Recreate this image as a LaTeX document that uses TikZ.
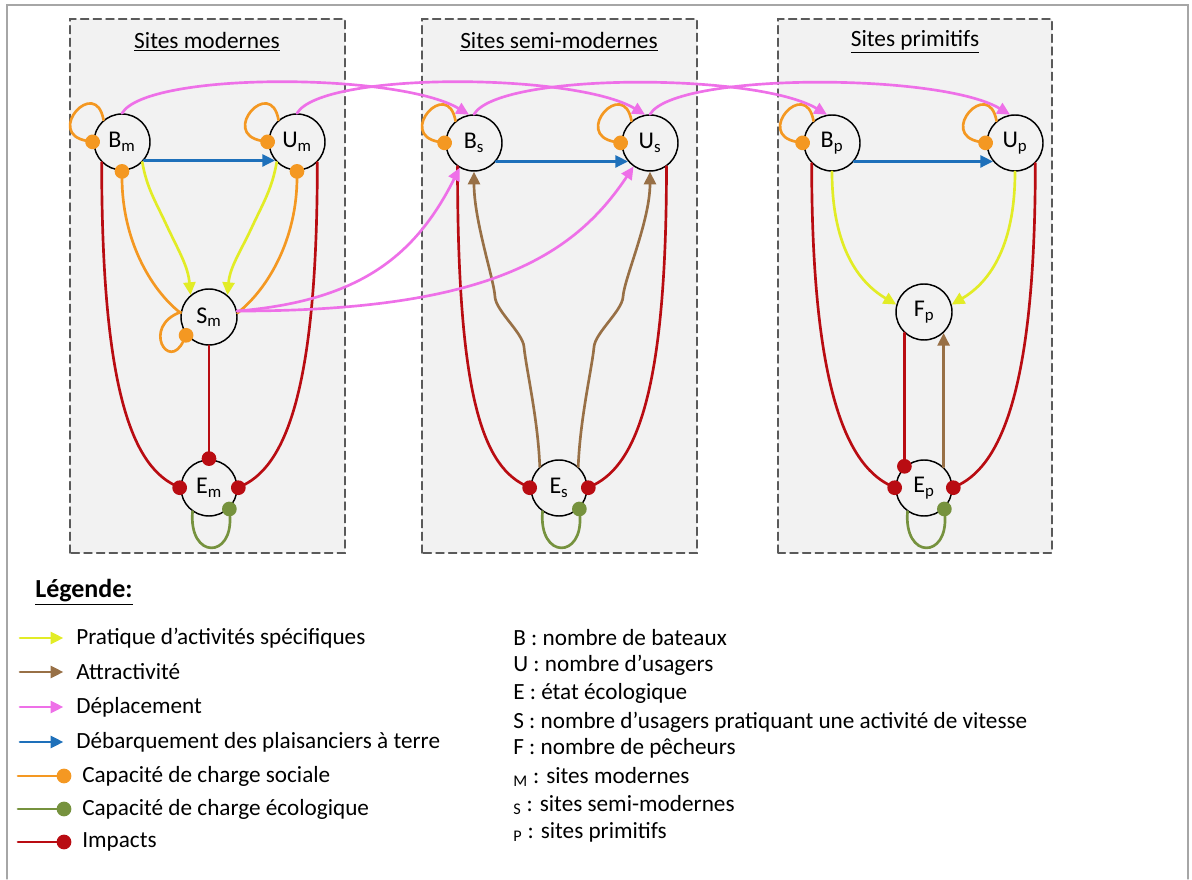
\documentclass[tikz,border=0pt]{standalone}
\usepackage{fontspec}
\setmainfont{Carlito}
\usetikzlibrary{arrows.meta}

\definecolor{actyel}{RGB}{226,236,38}
\definecolor{attrbrown}{RGB}{152,112,70}
\definecolor{movepink}{RGB}{238,112,232}
\definecolor{landblue}{RGB}{30,112,186}
\definecolor{socorange}{RGB}{244,152,34}
\definecolor{ecogreen}{RGB}{118,146,62}
\definecolor{impred}{RGB}{185,12,18}
\definecolor{panelgray}{RGB}{242,242,242}
\definecolor{framegray}{RGB}{90,90,90}

\begin{document}
\begin{tikzpicture}[x=0.75pt, y=0.75pt, line cap=round,
  site/.style={circle, draw=black, line width=1.1pt, minimum size=42pt, inner sep=0pt, font=\fontsize{18}{20}\selectfont},
  panel/.style={draw=framegray, fill=panelgray, dash pattern=on 6pt off 3.5pt, line width=1.1pt},
  title/.style={font=\fontsize{17.5}{20}\selectfont},
  arr/.style={line width=2pt, -{Triangle[length=9.5pt,width=9pt]}},
  dot/.style={line width=2pt, -{Circle[length=11pt]}, shorten >=-5pt},
  spec/.style={arr, actyel},
  attr/.style={arr, attrbrown},
  move/.style={arr, movepink},
  land/.style={arr, landblue},
  social/.style={dot, socorange},
  eco/.style={dot, ecogreen},
  impact/.style={dot, impred},
  legtext/.style={anchor=west, inner sep=0pt, font=\fontsize{17.4}{20}\selectfont},
]
\useasboundingbox (0,0) rectangle (1192,879);
% outer frame
\draw[gray!70, line width=0.8pt] (7,0) -- (7,874) -- (1188,874) -- (1188,0);

% the three site panels
\draw[panel] (70,326) rectangle (345,860);
\draw[panel] (422,326) rectangle (697,860);
\draw[panel] (778,326) rectangle (1052,860);
\node[title] (tm) at (207,837) {\underline{Sites modernes}};
\node[title] (ts) at (559,837) {\underline{Sites semi-modernes}};
\node[title] (tp) at (915,837) {\underline{Sites primitifs}};

% variables
\node[site] (Bm) at (122,737) {B\textsubscript{m}};
\node[site] (Um) at (297,737) {U\textsubscript{m}};
\node[site] (Sm) at (209,562) {S\textsubscript{m}};
\node[site] (Em) at (209,391) {E\textsubscript{m}};
\node[site] (Bs) at (474,736) {B\textsubscript{s}};
\node[site] (Us) at (650,736) {U\textsubscript{s}};
\node[site] (Es) at (559,391) {E\textsubscript{s}};
\node[site] (Bp) at (832,736) {B\textsubscript{p}};
\node[site] (Up) at (1015,736) {U\textsubscript{p}};
\node[site] (Fp) at (924,567) {F\textsubscript{p}};
\node[site] (Ep) at (924,391) {E\textsubscript{p}};

% social carrying capacity loops
\foreach \v in {Bm,Um,Bs,Us,Bp,Up}
  \draw[social] (\v.130) .. controls +(100:45) and +(170:50) .. (\v.180);
\draw[social] (Sm.170) .. controls +(200:42) and +(245:42) .. (Sm.218);
\draw[social] (Sm.172) .. controls (150,590) and (122,640) .. (Bm.south);
\draw[social] (Sm.8) .. controls (268,590) and (297,640) .. (Um.south);

% ecological carrying capacity loops
\foreach \v in {Em,Es,Ep}
  \draw[eco] (\v.235) .. controls +(-4,-48) and +(4,-51) .. (\v.-45);

% landing
\draw[land] (Bm.-40) -- (Um.220);
\draw[land] (Bs.-40) -- (Us.220);
\draw[land] (Bp.-40) -- (Up.220);

% specific activities
\draw[spec] (Bm.-45) to[out=-80,in=115] (166,655) to[out=-65,in=95] (Sm.130);
\draw[spec] (Um.-135) to[out=-100,in=65] (252,652) to[out=-115,in=85] (Sm.50);
\draw[spec] (Bp.south) .. controls +(0,-80) and +(-34,20) .. (Fp.165);
\draw[spec] (Up.south) .. controls +(0,-80) and +(34,20) .. (Fp.15);

% impacts
\draw[impact] (Bm.225) .. controls +(0,-220) and +(-50,25) .. (Em.west);
\draw[impact] (Um.-45) .. controls +(0,-220) and +(50,25) .. (Em.east);
\draw[impact] (Sm.south) -- (Em.north);
\draw[impact] (Bs.235) .. controls +(0,-220) and +(-50,25) .. (Es.west);
\draw[impact] (Us.-55) .. controls +(0,-220) and +(50,25) .. (Es.east);
\draw[impact] (Bp.225) .. controls +(0,-220) and +(-50,25) .. (Ep.west);
\draw[impact] (Up.-45) .. controls +(0,-220) and +(50,25) .. (Ep.east);
\draw[impact] (Fp.-133) -- (Ep.133);

% attractiveness
\draw[attr] (Es.132) .. controls (538,460) and (526,511) .. (524,532)
  .. controls (523,546) and (496,568) .. (495,582)
  .. controls (494,600) and (474,658) .. (Bs.south);
\draw[attr] (Es.48) .. controls (580,460) and (592,511) .. (594,532)
  .. controls (595,546) and (622,568) .. (623,582)
  .. controls (624,600) and (650,658) .. (Us.south);
\draw[attr] (Ep.47) -- (Fp.-47);

% moves between site types
\draw[move] (Bm.north) .. controls +(25,42) and +(-70,42) .. (Bs.100);
\draw[move] (Um.north) .. controls +(25,42) and +(-70,42) .. (Us.100);
\draw[move] (Bs.north) .. controls +(25,42) and +(-70,42) .. (Bp.100);
\draw[move] (Us.north) .. controls +(25,42) and +(-70,42) .. (Up.100);
\draw[move] (Sm.12) .. controls +(120,10) and +(-45,-90) .. (Bs.240);
\draw[move] (Sm.12) .. controls +(250,0) and +(-60,-90) .. (Us.235);

% legend
\node[anchor=west, inner sep=0pt, font=\fontsize{19.5}{22}\selectfont\bfseries] (leg) at (35,287) {\underline{Légende:}};
\coordinate (k1) at (20,241);
\coordinate (k2) at (20,207);
\coordinate (k3) at (20,172);
\coordinate (k4) at (20,137);
\coordinate (k5) at (18,103);
\coordinate (k6) at (18,70);
\coordinate (k7) at (18,37);
\node[legtext] (l1) at (76,241) {Pratique d’activités spécifiques};
\node[legtext] (l2) at (76,207) {Attractivité};
\node[legtext] (l3) at (76,172) {Déplacement};
\node[legtext] (l4) at (76,137) {Débarquement des plaisanciers à terre};
\node[legtext] (l5) at (82,103) {Capacité de charge sociale};
\node[legtext] (l6) at (82,70) {Capacité de charge écologique};
\node[legtext] (l7) at (82,37) {Impacts};
\draw[spec, shorten >=9.5pt] (k1) -- (l1.west);
\draw[attr, shorten >=9.5pt] (k2) -- (l2.west);
\draw[move, shorten >=9.5pt] (k3) -- (l3.west);
\draw[land, shorten >=9.5pt] (k4) -- (l4.west);
\draw[social, shorten >=8pt] (k5) -- (l5.west);
\draw[eco, shorten >=8pt] (k6) -- (l6.west);
\draw[impact, shorten >=8pt] (k7) -- (l7.west);

\node[legtext] (v1) at (513,241) {B : nombre de bateaux};
\node[legtext] (v2) at (513,214) {U : nombre d’usagers};
\node[legtext] (v3) at (513,186) {E : état écologique};
\node[legtext] (v4) at (513,157) {S : nombre d’usagers pratiquant une activité de vitesse};
\node[legtext] (v5) at (513,131) {F : nombre de pêcheurs};
\node[legtext] (v6) at (513,102) {\textsubscript{M} : sites modernes};
\node[legtext] (v7) at (513,74) {\textsubscript{S} : sites semi-modernes};
\node[legtext] (v8) at (513,47) {\textsubscript{P} : sites primitifs};
\end{tikzpicture}
\end{document}
